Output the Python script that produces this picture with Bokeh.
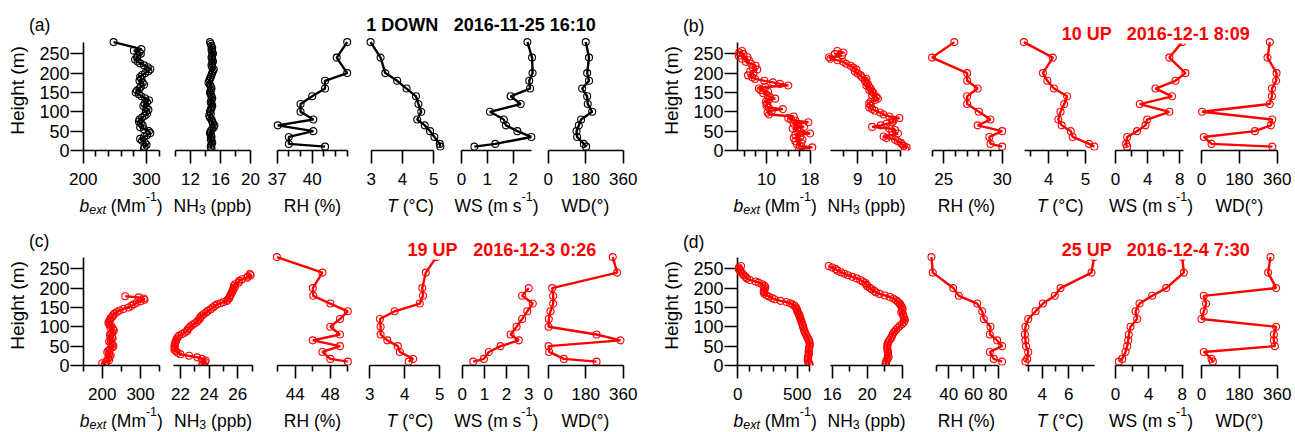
import math
from bokeh.plotting import figure
from bokeh.models import Range1d, LinearAxis, FixedTicker, Column, Label
from bokeh.embed import file_html
from bokeh.resources import INLINE
from bokeh.core.validation import silence
from bokeh.core.validation.warnings import MISSING_RENDERERS

silence(MISSING_RENDERERS, True)

# ---------------------------------------------------------------- data
# levels of the meteorological sensors (m)
met_h = [280, 240, 200, 180, 160, 140, 120, 100, 80, 65, 50, 35, 17, 10]

# (a) 1 DOWN 2016-11-25 16:10
bext_a_h = [280, 262, 258, 254, 250, 245, 240, 235, 230, 225, 220, 215, 210, 205, 200, 195, 190, 185,
            180, 175, 170, 165, 160, 155, 150, 145, 140, 135, 130, 125, 120, 115, 110, 105, 100, 95,
            90, 85, 80, 75, 70, 65, 60, 55, 50, 45, 40, 35, 30, 25, 20, 15, 10, 5]
bext_a = [248, 292, 280, 289, 291, 286, 285, 282, 286, 290, 296, 302, 306, 303, 298, 293, 290, 292,
          289, 294, 296, 291, 289, 285, 283, 288, 292, 298, 304, 301, 297, 295, 300, 303, 299, 301,
          297, 293, 289, 288, 291, 294, 290, 296, 304, 306, 301, 296, 290, 293, 298, 300, 297, 296]
nh3_a_h = [280, 275, 270, 265, 260, 255, 250, 245, 240, 235, 230, 225, 220, 215, 210, 205, 200, 195,
           190, 185, 180, 175, 170, 165, 160, 155, 150, 145, 140, 135, 130, 125, 120, 115, 110, 105,
           100, 95, 90, 85, 80, 75, 70, 65, 60, 55, 50, 45, 40, 35, 30, 25, 20, 15, 10, 5]
nh3_a = [14.6, 14.7, 14.8, 14.9, 14.8, 14.9, 15.0, 14.9, 14.8, 14.9, 15.0, 14.9, 14.8, 14.9, 15.1,
         15.0, 14.9, 14.8, 14.7, 14.6, 14.5, 14.4, 14.6, 14.7, 14.8, 14.7, 14.6, 14.7, 14.8, 14.9,
         14.8, 14.7, 14.8, 14.9, 14.8, 14.7, 14.6, 14.7, 14.5, 14.6, 14.8, 14.9, 15.0, 15.2, 15.1,
         14.9, 14.7, 14.6, 14.7, 14.8, 14.7, 14.8, 14.9, 14.8, 14.7, 14.8]
rh_a = [43.0, 42.1, 43.0, 41.1, 41.1, 40.0, 39.0, 39.0, 40.1, 37.05, 40.1, 38.0, 38.0, 41.1]
t_a = [2.98, 3.30, 3.45, 3.83, 4.13, 4.43, 4.51, 4.60, 4.47, 4.71, 4.88, 5.02, 5.19, 5.21]
ws_a_h = [280, 240, 200, 180, 160, 140, 120, 100, 80, 65, 50, 35, 17, 10]
ws_a = [2.55, 2.73, 2.75, 2.62, 2.65, 1.90, 2.29, 1.10, 1.64, 1.72, 2.16, 2.70, 1.31, 0.50]
wd_a = [180, 196, 187, 196, 163, 187, 190, 211, 158, 147, 136, 139, 171, 182]

# (b) 10 UP 2016-12-1 8:09
bext_b_h = [257, 253, 249, 245, 241, 237, 233, 229, 224, 219, 214, 209, 204, 199, 194, 189, 185, 180,
            176, 172, 168, 164, 160, 156, 152, 148, 143, 138, 134, 130, 126, 121, 116, 111, 107, 103,
            98, 93, 88, 84, 80, 77, 73, 69, 65, 61, 57, 53, 49, 44, 40, 36, 32, 28, 24, 20, 16, 12, 8, 4]
bext_b = [5.5, 5.0, 5.8, 4.9, 6.5, 5.5, 6.8, 6.2, 7.2, 8.0, 7.5, 8.3, 7.0, 7.6, 6.6, 7.4, 7.9, 9.6,
          11.2, 12.5, 14.0, 9.8, 8.6, 8.9, 10.3, 9.4, 10.2, 10.6, 11.6, 10.4, 9.9, 10.1, 10.0, 10.4,
          13.0, 11.0, 10.2, 10.5, 15.0, 14.0, 14.5, 15.3, 17.7, 15.0, 15.6, 16.9, 14.8, 15.6, 16.2,
          18.0, 15.3, 16.2, 15.0, 16.6, 15.3, 16.4, 15.6, 16.1, 18.4, 16.0]
nh3_b_h = bext_b_h
nh3_b = [8.29, 8.5, 8.2, 8.45, 8.0, 8.05, 8.3, 8.5, 8.6, 8.75, 8.85, 8.95, 8.9, 9.0, 9.1, 9.15, 9.3,
         9.25, 9.3, 9.35, 9.3, 9.4, 9.45, 9.4, 9.5, 9.55, 9.5, 9.65, 9.7, 9.6, 9.45, 9.4, 9.45, 9.4,
         9.5, 9.6, 9.78, 9.9, 10.1, 10.45, 10.2, 10.25, 10.2, 10.0, 9.8, 9.5, 10.1, 10.3, 10.2, 10.4,
         10.2, 9.9, 10.0, 10.3, 10.4, 10.5, 10.55, 10.6, 10.7, 10.65]
rh_b = [25.9, 24.0, 27.0, 27.0, 27.9, 27.0, 27.0, 28.0, 29.0, 27.9, 30.0, 28.9, 29.0, 30.0]
t_b = [3.32, 4.11, 3.84, 3.96, 4.14, 4.50, 4.42, 4.32, 4.26, 4.35, 4.60, 4.65, 5.10, 5.24]
ws_b_h = [280, 240, 200, 180, 160, 140, 120, 100, 80, 65, 50, 35, 17, 10]
ws_b = [8.3, 6.7, 8.7, 7.46, 4.97, 7.05, 3.02, 6.7, 3.94, 3.73, 2.69, 1.45, 1.32, 1.45]
wd_b = [325, 314, 357, 355, 335, 335, 325, 3, 337, 330, 254, 11, 48, 337]

# (c) 19 UP 2016-12-3 0:26
bext_c_h = [179, 176, 173, 170, 166, 162, 158, 154, 150, 146, 142, 138, 134, 130, 126, 122, 118, 114,
            110, 106, 102, 98, 94, 90, 86, 82, 78, 74, 70, 66, 62, 58, 54, 50, 46, 42, 38, 34, 30, 26,
            22, 18, 14, 10, 6, 3]
bext_c = [260, 295, 308, 310, 300, 290, 282, 276, 268, 255, 245, 238, 232, 228, 226, 222, 220, 218,
          216, 219, 224, 221, 228, 230, 226, 222, 220, 225, 227, 222, 218, 222, 226, 229, 225, 220,
          216, 213, 218, 222, 219, 215, 218, 210, 200, 207]
nh3_c_h = [236, 233, 230, 227, 223, 219, 214, 210, 206, 202, 198, 194, 190, 186, 182, 178, 174, 170,
           167, 164, 161, 158, 154, 150, 145, 141, 137, 133, 129, 125, 121, 117, 113, 109, 105, 101,
           97, 93, 89, 85, 81, 77, 73, 69, 65, 61, 57, 53, 49, 45, 41, 37, 33, 29, 25, 21, 17, 13, 9, 5, 2]
nh3_c = [26.85, 26.9, 26.7, 26.66, 26.3, 26.1, 26.07, 25.8, 25.73, 25.8, 25.7, 25.65, 25.6, 25.55,
         25.5, 25.45, 25.4, 25.3, 25.26, 25.0, 24.8, 24.56, 24.4, 24.25, 24.1, 23.9, 23.8, 23.63,
         23.5, 23.4, 23.35, 23.25, 23.17, 23.0, 22.85, 22.7, 22.6, 22.5, 22.47, 22.3, 22.1, 21.9,
         21.8, 21.75, 21.7, 21.66, 21.62, 21.6, 21.58, 21.6, 21.58, 21.7, 21.8, 22.0, 22.6, 23.17,
         23.5, 23.75, 23.7, 23.6, 23.52]
rh_c = [41.9, 47.1, 46.0, 46.05, 48.0, 50.0, 49.1, 48.0, 49.1, 46.0, 49.1, 47.1, 48.0, 50.0]
t_c = [4.9, 4.6, 4.5, 4.52, 4.43, 3.71, 3.29, 3.31, 3.31, 3.5, 3.8, 3.86, 4.24, 4.11]
ws_c_h = [200, 180, 160, 140, 120, 100, 80, 65, 50, 35, 17, 10]
ws_c = [3.0, 2.7, 3.18, 2.93, 2.7, 2.45, 2.18, 2.55, 1.73, 1.2, 0.98, 0.5]
wd_c = [310, 331, 19, 24, 24, 11, 3, 2, 232, 347, 2, 5, 75, 232]

# (d) 25 UP 2016-12-4 7:30
bext_d_h = [257, 253, 249, 245, 241, 237, 233, 229, 225, 221, 217, 214, 210, 206, 202, 198, 194, 190,
            186, 182, 178, 174, 171, 167, 164, 161, 158, 154, 150, 146, 142, 138, 134, 130, 126, 122,
            118, 114, 110, 105, 100, 95, 90, 85, 80, 75, 70, 65, 60, 55, 50, 45, 40, 35, 30, 25, 20,
            15, 10, 6, 3]
bext_d = [28, 10, 8, 20, 30, 42, 50, 65, 78, 100, 150, 176, 205, 225, 232, 228, 220, 218, 224, 240,
          262, 290, 310, 360, 410, 440, 460, 480, 490, 496, 500, 505, 512, 518, 522, 526, 530, 535,
          540, 545, 550, 555, 560, 566, 575, 582, 590, 598, 604, 606, 605, 600, 598, 596, 600, 594,
          590, 588, 592, 600, 605]
nh3_d_h = [257, 253, 249, 245, 241, 237, 233, 229, 225, 221, 217, 213, 209, 205, 201, 197, 193, 189,
           185, 181, 177, 173, 169, 165, 161, 157, 152, 147, 142, 137, 132, 127, 122, 117, 112, 107,
           102, 97, 92, 87, 82, 77, 72, 67, 62, 57, 52, 47, 42, 37, 32, 27, 22, 17, 12, 7, 3]
nh3_d = [15.6, 16.0, 16.4, 16.6, 17.0, 17.4, 17.8, 18.3, 18.8, 19.2, 19.5, 19.8, 19.9, 20.0, 20.3,
         20.5, 20.8, 21.0, 21.4, 22.0, 22.6, 23.0, 23.3, 23.5, 23.7, 23.8, 23.95, 24.05, 24.0, 23.9,
         24.1, 24.15, 24.25, 24.3, 24.2, 24.0, 23.7, 23.5, 23.3, 23.1, 22.95, 22.86, 22.75, 22.6,
         22.45, 22.35, 22.3, 22.28, 22.3, 22.35, 22.4, 22.38, 22.45, 22.3, 22.2, 22.15, 22.1]
rh_d = [25.9, 27.0, 43.6, 48.2, 63.1, 67.2, 68.5, 73.9, 73.4, 79.3, 83.4, 73.4, 76.6, 83.4]
t_d = [7.9, 7.71, 5.38, 4.95, 4.05, 3.5, 2.95, 2.74, 2.7, 2.74, 2.79, 2.95, 2.87, 2.74]
ws_d_h = [280, 240, 200, 180, 160, 140, 120, 100, 80, 65, 50, 35, 17, 10]
ws_d = [8.0, 8.2, 6.08, 4.4, 2.88, 2.4, 2.6, 1.8, 1.6, 1.52, 1.4, 1.2, 0.8, 0.4]
wd_d = [328, 317, 355, 11, 22, 11, 0, 355, 344, 344, 349, 11, 48, 54]

height_ticks = [0, 50, 100, 150, 200, 250]

panel_letters = ["(a)", "(b)", "(c)", "(d)"]
panel_titles = [("1 DOWN", "2016-11-25 16:10"), ("10 UP", "2016-12-1 8:09"),
                ("19 UP", "2016-12-3 0:26"), ("25 UP", "2016-12-4 7:30")]

# ---------------------------------------------------------------- layout / style
W, H = 1295, 432
FONT = "Liberation Sans"
RED = "#ff0000"

# each sub-axis: two (value, pixel) anchors, axis extent, labelled and unlabelled ticks
PANELS = [
    dict(color="black", yaxis_x=83, bottom=150,
         series=[(bext_a_h, bext_a), (nh3_a_h, nh3_a), (met_h, rh_a), (met_h, t_a), (ws_a_h, ws_a), (met_h, wd_a)],
         axes=[dict(anchors=((200, 82.7), (300, 146.0)), bounds=(200, 320), major=[200, 300], minor=[220, 240, 260, 280, 320]),
               dict(anchors=((12, 190.0), (20, 250.0)), bounds=(10, 20), major=[12, 16, 20], minor=[10, 14, 18]),
               dict(anchors=((37, 276.7), (40, 311.7)), bounds=(37, 43), major=[37, 40], minor=[38, 39, 41, 42, 43]),
               dict(anchors=((3, 370.7), (5, 433.3)), bounds=(3, 5), major=[3, 4, 5], minor=[]),
               dict(anchors=((0, 461.0), (2, 512.7)), bounds=(0, 2.7), major=[0, 1, 2], minor=[]),
               dict(anchors=((0, 547.7), (360, 622.7)), bounds=(0, 360), major=[0, 180, 360], minor=[])],
         title_x=(401.7, 524.3), title_y=30.7, letter=(28.5, 31.0),
         label_x=[120.6, 212.0, 312.0, 410.0, 496.0, 585.0], label_y=211.5),
    dict(color=RED, yaxis_x=737, bottom=150,
         series=[(bext_b_h, bext_b), (nh3_b_h, nh3_b), (met_h, rh_b), (met_h, t_b), (ws_b_h, ws_b), (met_h, wd_b)],
         axes=[dict(anchors=((10, 766.0), (18, 809.6)), bounds=(4.73, 18), major=[10, 18], minor=[6, 8, 12, 14, 16]),
               dict(anchors=((9, 857.3), (10, 886.0)), bounds=(8.05, 10.5), major=[9, 10], minor=[8.5, 9.5, 10.5]),
               dict(anchors=((25, 943.3), (30, 1001.7)), bounds=(24, 30), major=[25, 30], minor=[24, 26, 27, 28, 29]),
               dict(anchors=((4, 1048.3), (5, 1085.0)), bounds=(3.34, 5), major=[4, 5], minor=[3.5, 4.5]),
               dict(anchors=((0, 1115.0), (8, 1179.3)), bounds=(0, 8.5), major=[0, 4, 8], minor=[2, 6]),
               dict(anchors=((0, 1201.0), (360, 1276.7)), bounds=(0, 360), major=[0, 180, 360], minor=[])],
         title_x=(1086.2, 1187.8), title_y=39.3, letter=(682.5, 31.7),
         label_x=[774.7, 866.0, 966.0, 1059.7, 1150.5, 1239.0], label_y=211.5),
    dict(color=RED, yaxis_x=83, bottom=365,
         series=[(bext_c_h, bext_c), (nh3_c_h, nh3_c), (met_h, rh_c), (met_h, t_c), (ws_c_h, ws_c), (met_h, wd_c)],
         axes=[dict(anchors=((200, 101.8), (300, 140.1)), bounds=(150, 350), major=[200, 300], minor=[150, 250, 350]),
               dict(anchors=((22, 180.0), (26, 237.3)), bounds=(21.5, 27), major=[22, 24, 26], minor=[23, 25, 27]),
               dict(anchors=((44, 294.8), (48, 329.8)), bounds=(42, 50), major=[44, 48], minor=[42, 46, 50]),
               dict(anchors=((3, 369.3), (5, 439.3)), bounds=(3, 5), major=[3, 4, 5], minor=[]),
               dict(anchors=((0, 461.7), (3, 528.3)), bounds=(0, 3), major=[0, 1, 2, 3], minor=[]),
               dict(anchors=((0, 547.7), (360, 622.7)), bounds=(0, 360), major=[0, 180, 360], minor=[])],
         title_x=(432.0, 534.3), title_y=255.3, letter=(28.5, 246.7),
         label_x=[120.8, 212.5, 312.0, 409.5, 495.8, 585.0], label_y=426.8),
    dict(color=RED, yaxis_x=737, bottom=365,
         series=[(bext_d_h, bext_d), (nh3_d_h, nh3_d), (met_h, rh_d), (met_h, t_d), (ws_d_h, ws_d), (met_h, wd_d)],
         axes=[dict(anchors=((0, 737.3), (500, 796.7)), bounds=(0, 600), major=[0, 500], minor=[100, 200, 300, 400, 600]),
               dict(anchors=((16, 831.7), (24, 901.7)), bounds=(15.8, 24), major=[16, 20, 24], minor=[18, 22]),
               dict(anchors=((40, 948.3), (80, 997.5)), bounds=(30, 80), major=[40, 60, 80], minor=[30, 50, 70]),
               dict(anchors=((4, 1041.7), (6, 1068.3)), bounds=(2.75, 7.9), major=[4, 6], minor=[3, 5, 7]),
               dict(anchors=((0, 1115.0), (8, 1181.7)), bounds=(0, 8.2), major=[0, 4, 8], minor=[2, 6]),
               dict(anchors=((0, 1201.0), (360, 1276.7)), bounds=(0, 360), major=[0, 180, 360], minor=[])],
         title_x=(1086.2, 1187.8), title_y=255.3, letter=(682.5, 247.7),
         label_x=[774.7, 866.0, 966.0, 1059.7, 1150.5, 1239.0], label_y=426.8),
]

FRAME_H = 120      # pixel height of every plotting frame
H_TOP = 310        # height (m) at the top edge of the frame
MID = 0.345        # baseline-to-middle distance of the font, in em

# x-axis titles as (text, size, style, baseline shift) pieces
BIG, SMALL = 17.5, 12.5
AXIS_TITLES = [
    [("b", BIG, "italic", 0), ("ext", SMALL, "italic", 2), (" (Mm", BIG, "normal", 0), ("-1", SMALL, "normal", -11), (")", BIG, "normal", 0)],
    [("NH", BIG, "normal", 0), ("3", SMALL, "normal", 2), (" (ppb)", BIG, "normal", 0)],
    [("RH (%)", BIG, "normal", 0)],
    [("T", BIG, "italic", 0), (" (°C)", BIG, "normal", 0)],
    [("WS (m s", BIG, "normal", 0), ("-1", SMALL, "normal", -11), (")", BIG, "normal", 0)],
    [("WD(°)", BIG, "normal", 0)],
]

# advance widths (1/1000 em) of the Arial-metric font
ADV = {' ': 278, '(': 333, ')': 333, '%': 889, '-': 333, '°': 400, ':': 278, 'C': 722, 'D': 722,
       'H': 722, 'M': 833, 'N': 722, 'R': 722, 'S': 667, 'T': 611, 'W': 944, 'b': 556, 'e': 556,
       'm': 833, 'p': 556, 's': 500, 't': 278, 'x': 500}


def text_width(s, size):
    return sum(ADV.get(c, 556) for c in s) * size / 1000.0


def base_fig(xl, xr, x_range, top, bottom, y_range, first=False):
    p = figure(width=W, height=H, output_backend="svg", toolbar_location=None,
               x_range=x_range, y_range=y_range, x_axis_type=None, y_axis_type=None,
               title=None, min_border_left=xl, min_border_right=W - xr,
               min_border_top=top, min_border_bottom=H - bottom,
               background_fill_color=None, border_fill_color=None,
               outline_line_color=None)
    # keep every frame where its borders put it, not lined up with its neighbours
    if "frame_align" in p.properties():
        p.frame_align = False
    # every layer after the first is pulled up onto the same 1295x432 area
    p.margin = (0, 0, 0, 0) if first else (-H, 0, 0, 0)
    return p


def style_axis(ax):
    ax.axis_line_color = "black"
    ax.axis_line_width = 1.6
    ax.major_tick_line_color = "black"
    ax.major_tick_line_width = 1.6
    ax.minor_tick_line_color = "black"
    ax.minor_tick_line_width = 1.6
    ax.major_tick_in = 0
    ax.minor_tick_in = 0
    ax.major_label_text_color = "black"
    ax.major_label_text_font = FONT


def subplot(hs, vs, color, spec, bottom):
    (va, pa), (vb, pb) = spec["anchors"]
    k = (pb - pa) / (vb - va)
    to_v = lambda px: va + (px - pa) / k
    to_px = lambda v: pa + (v - va) * k
    b0, b1 = spec["bounds"]
    xl = int(math.floor(to_px(b0) - 16))
    xr = int(math.ceil(to_px(b1) + 16))
    p = base_fig(xl, xr, Range1d(to_v(xl), to_v(xr)), bottom - FRAME_H, bottom, Range1d(0, H_TOP))
    eps = (b1 - b0) * 1e-6
    ax = LinearAxis(ticker=FixedTicker(ticks=spec["major"], minor_ticks=spec["minor"]),
                    bounds=(b0 - eps, b1 + eps))
    style_axis(ax)
    ax.major_tick_out = 13
    ax.minor_tick_out = 6
    ax.major_label_text_font_size = "17px"
    ax.major_label_standoff = 9
    p.add_layout(ax, "below")
    p.line(vs, hs, line_color=color, line_width=2.4)
    p.scatter(vs, hs, marker="circle", size=7, fill_color=None, line_color=color, line_width=1.1)
    return p


def yaxis_fig(x, bottom, first):
    p = base_fig(x, x + 1, Range1d(0, 1), bottom - FRAME_H, bottom, Range1d(0, H_TOP), first=first)
    ax = LinearAxis(ticker=FixedTicker(ticks=height_ticks, minor_ticks=[]), bounds=(0, 280),
                    axis_label="Height (m)")
    style_axis(ax)
    ax.major_tick_out = 13
    ax.major_label_text_font_size = "18px"
    ax.major_label_standoff = 1
    ax.axis_label_text_font = FONT
    ax.axis_label_text_font_size = "19px"
    ax.axis_label_text_font_style = "normal"
    ax.axis_label_text_color = "black"
    ax.axis_label_standoff = 8
    p.add_layout(ax, "left")
    return p


def put_text(fig, x, baseline, text, size, style="normal", color="black", align="left", bg=None):
    # labels are anchored on their middle; shift so the baseline lands where asked
    fig.add_layout(Label(x=x, y=baseline - MID * size, text=text, text_font=FONT,
                         text_font_size=f"{size}px", text_font_style=style, text_color=color,
                         text_align=align, text_baseline="middle", background_fill_color=bg))


figs = []
for i, panel in enumerate(PANELS):
    figs.append(yaxis_fig(panel["yaxis_x"], panel["bottom"], first=(i == 0)))
    for (hs, vs), spec in zip(panel["series"], panel["axes"]):
        figs.append(subplot(hs, vs, panel["color"], spec, panel["bottom"]))

# text layer in page pixel coordinates (y grows downwards)
ov = base_fig(0, W, Range1d(0, W), 0, H, Range1d(H, 0))
for i, panel in enumerate(PANELS):
    lx, ly = panel["letter"]
    put_text(ov, lx, ly, panel_letters[i], 17.5)
    for txt, cx in zip(panel_titles[i], panel["title_x"]):
        put_text(ov, cx, panel["title_y"], txt, 18, style="bold", color=panel["color"],
                 align="center", bg="white")
    for pieces, cx in zip(AXIS_TITLES, panel["label_x"]):
        total = sum(text_width(t, s) for t, s, _, _ in pieces)
        x = cx - total / 2.0
        for t, s, style, dy in pieces:
            body = t.lstrip(" ")
            x += text_width(t[:len(t) - len(body)], s)
            put_text(ov, x, panel["label_y"] + dy, body, s, style=style)
            x += text_width(body, s)
figs.append(ov)

root = Column(children=figs, spacing=0)
open("out.html", "w").write(file_html(root, INLINE))
